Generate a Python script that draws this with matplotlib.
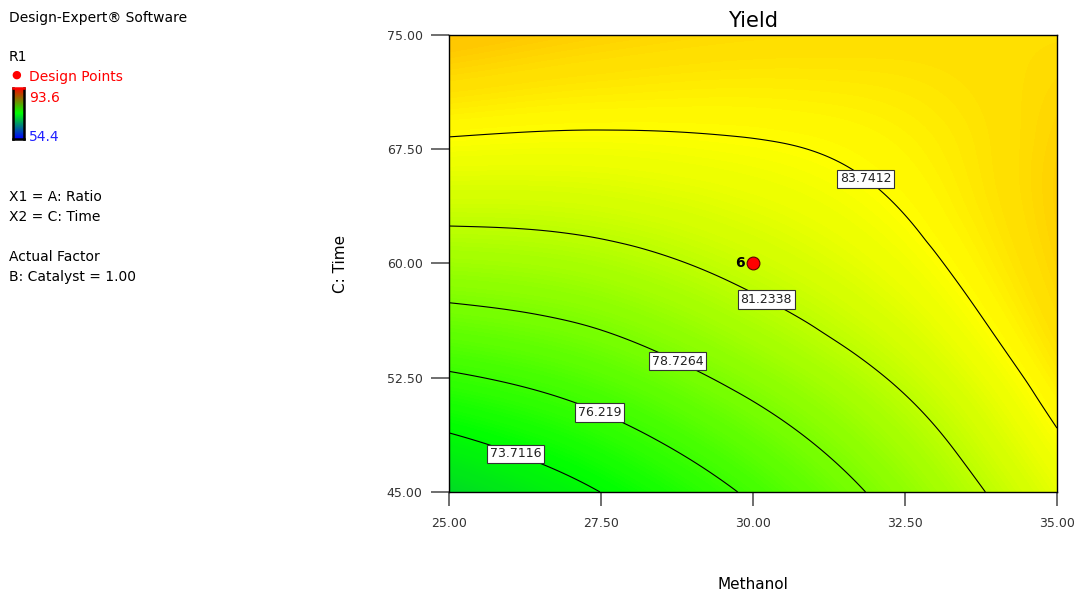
import numpy as np
import matplotlib
matplotlib.use("Agg")
import matplotlib.pyplot as plt
import matplotlib.tri as mtri
from matplotlib.colors import LinearSegmentedColormap

plt.rcParams["font.family"] = ["DejaVu Sans"]

# factor levels (A: Ratio -> shown as Methanol, C: Time) and yield
ratio = [25.0, 27.5, 30.0, 32.5, 35.0]
time = [45.0, 52.5, 60.0, 67.5, 75.0]
yield_grid = [
    [71.20, 73.73, 76.51, 79.53, 82.80],   # time 45
    [75.97, 77.31, 79.31, 81.54, 84.43],   # time 52.5
    [80.04, 80.58, 81.81, 83.28, 85.36],   # time 60
    [83.43, 83.35, 83.60, 84.18, 85.45],   # time 67.5
    [86.12, 85.51, 85.15, 85.03, 85.05],   # time 75
]
contour_levels = [73.7116, 76.219, 78.7264, 81.2338, 83.7412]
label_spots = [(26.13, 47.82), (27.48, 50.25), (28.75, 53.53), (30.23, 57.73), (31.94, 66.0)]
design_point = (30.0, 60.0)
design_count = "6"
r1_min, r1_max = 54.4, 93.6

FIG_DPI = 100
FIG_SIZE = (10.78, 5.92)

dx_cmap = LinearSegmentedColormap.from_list(
    "dx", [(0.0, (0, 0, 1)), (0.5, (0, 1, 0)), (0.75, (1, 1, 0)), (1.0, (1, 0, 0))])
legend_cmap = LinearSegmentedColormap.from_list("dx_legend", [(0, 0, 1), (0, 1, 0), (1, 0, 0)])

# smooth surface through the grid (interpolated in scaled units)
A, C = np.meshgrid(ratio, time)
a_n = (A - ratio[0]) / (ratio[-1] - ratio[0])
c_n = (C - time[0]) / (time[-1] - time[0])
tri = mtri.Triangulation(a_n.ravel(), c_n.ravel())
interp = mtri.CubicTriInterpolator(tri, np.array(yield_grid).ravel(), kind="min_E")
fa, fc = np.meshgrid(np.linspace(0, 1, 240), np.linspace(0, 1, 240))
fz = interp(fa, fc)
FA = ratio[0] + fa * (ratio[-1] - ratio[0])
FC = time[0] + fc * (time[-1] - time[0])

fig = plt.figure(figsize=FIG_SIZE, dpi=FIG_DPI)
ax = fig.add_axes([0.4165, 0.169, 0.564, 0.772])

ax.contourf(FA, FC, fz, levels=np.linspace(r1_min, r1_max, 300), cmap=dx_cmap,
            vmin=r1_min, vmax=r1_max)
cs = ax.contour(FA, FC, fz, levels=contour_levels, colors="black", linewidths=0.8)
labels = ax.clabel(cs, fmt=lambda v: f"{v:.6g}", manual=label_spots, inline=False, fontsize=9)
for t in labels:
    t.set_rotation(0)
    t.set_color("#222222")
    t.set_bbox(dict(facecolor="white", edgecolor="#333333", linewidth=0.8, pad=2))

ax.scatter([design_point[0]], [design_point[1]], s=85, color="red", edgecolor="#600000",
           linewidth=0.8, zorder=5)
ax.annotate(design_count, design_point, xytext=(-6, 0), textcoords="offset points",
            ha="right", va="center", fontsize=10, fontweight="bold", zorder=5)

ax.set_xlim(ratio[0], ratio[-1])
ax.set_ylim(time[0], time[-1])
ax.set_xticks(ratio)
ax.set_yticks(time)
ax.set_xticklabels([f"{v:.2f}" for v in ratio])
ax.set_yticklabels([f"{v:.2f}" for v in time])
ax.tick_params(axis="x", length=10, width=1.2, color="#555555", pad=8, labelsize=9,
               labelcolor="#333333")
ax.tick_params(axis="y", length=13, width=1.2, color="#555555", pad=6, labelsize=9,
               labelcolor="#333333")
for s in ax.spines.values():
    s.set_linewidth(1.0)
ax.set_title("Yield", fontsize=15, pad=6)
ax.set_xlabel("Methanol", fontsize=11, labelpad=34)
ax.set_ylabel("C: Time", fontsize=11, labelpad=28)

# left info panel
def panel_text(y_px, s, color="black", x_px=9):
    fig.text(x_px / 1078, 1 - y_px / 592, s, color=color, fontsize=10, va="center", ha="left")

panel_text(18, "Design-Expert® Software")
panel_text(57, "R1")
fig.text(16 / 1078, 1 - 75 / 592, "●", color="red", fontsize=8, ha="center", va="center")
panel_text(77, "Design Points", color="red", x_px=29)
cax = fig.add_axes([13 / 1078, 1 - 139 / 592, 11 / 1078, 51 / 592])
cax.imshow(np.linspace(r1_max, r1_min, 100).reshape(-1, 1), aspect="auto", cmap=legend_cmap,
           vmin=r1_min, vmax=r1_max)
cax.set_xticks([])
cax.set_yticks([])
for s in cax.spines.values():
    s.set_linewidth(1.8)
cax.spines["top"].set_color("red")
panel_text(98, f"{r1_max}", color="red", x_px=29)
panel_text(137, f"{r1_min}", color="#2020ff", x_px=29)
panel_text(197, "X1 = A: Ratio")
panel_text(217, "X2 = C: Time")
panel_text(257, "Actual Factor")
panel_text(277, "B: Catalyst = 1.00")

plt.savefig("out.png", dpi=FIG_DPI)
